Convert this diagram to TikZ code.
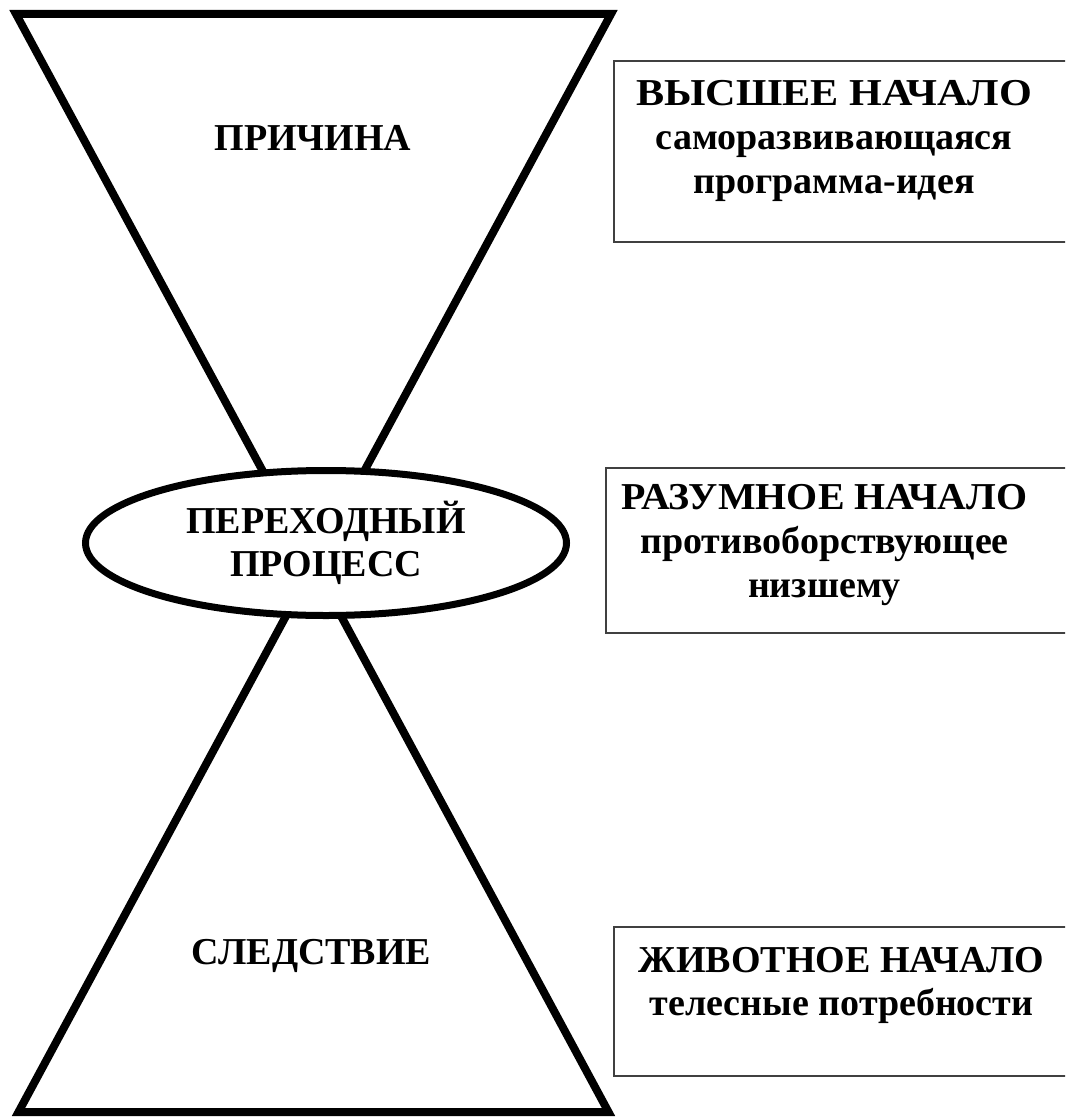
\documentclass[tikz,border=0pt]{standalone}
\usepackage{fontspec}
\usepackage{graphicx}
\setmainfont{Liberation Serif}
\usetikzlibrary{shapes.geometric}
\newcommand{\widehead}[2]{\scalebox{#1}[1]{#2}}
\begin{document}
\begin{tikzpicture}[x=0.5pt,y=-0.5pt,
  tri/.style={line width=4pt,line join=miter},
  infobox/.style={draw=black!75,line width=0.6pt},
  lbl/.style={font=\bfseries\fontsize{19}{22}\selectfont,align=center,inner sep=0pt,anchor=north},
  oval/.style={ellipse,draw,line width=3.5pt,fill=white,inner sep=0pt,minimum width=240.5pt,minimum height=72.5pt,
     font=\bfseries\fontsize{19}{21.5}\selectfont,align=center}]
\useasboundingbox (0,0) rectangle (1065,1117);
\clip (0,0) rectangle (1065,1117);
% hourglass
\coordinate (apex) at (313.5,565);
\coordinate (tl) at (16,14);
\coordinate (tr) at (611,14);
\coordinate (bl) at (18.5,1112);
\coordinate (br) at (608.5,1112);
\draw[tri] (tl) -- (tr) -- (apex) -- cycle;
\draw[tri] (bl) -- (br) -- (apex) -- cycle;
\node[oval] (proc) at (326,543) {ПЕРЕХОДНЫЙ\\ПРОЦЕСС};
\node[lbl] (cause) at (313,125) {ПРИЧИНА};
\node[lbl] (effect) at (311.5,939) {СЛЕДСТВИЕ};
% boxes
\draw[infobox] (614,61) rectangle (1080,242);
\draw[infobox] (606,468) rectangle (1080,633);
\draw[infobox] (614,927) rectangle (1080,1076);
\node[lbl] (high) at (834,80) {\widehead{1.11}{ВЫСШЕЕ НАЧАЛО}\\саморазвивающаяся\\программа-идея};
\node[lbl] (mind) at (824.5,484) {\widehead{1.05}{РАЗУМНОЕ НАЧАЛО}\\противоборствующее\\низшему};
\node[lbl,font=\bfseries\fontsize{19}{21.5}\selectfont] (animal) at (841.5,947) {ЖИВОТНОЕ НАЧАЛО\\телесные потребности};
\end{tikzpicture}
\end{document}
